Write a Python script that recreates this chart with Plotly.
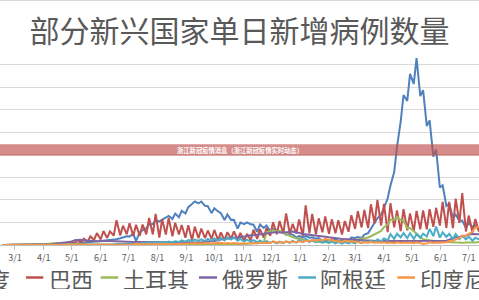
import pandas as pd
import plotly.graph_objects as go

# ---- data (daily new cases, thousands; sampled Mon / Thu) ----
india = [
    0,0, 0,0, 0,0, 0,0,
    0,0.1, 0.1,0.1, 0.2,0.5, 0.6,0.6,
    1.2,1.1, 1.5,1.7, 1.6,1.8, 2.6,3.3,
    4.2,3.9, 5.0,5.6, 6.9,7.3, 8.4,9.9,
    9.9,11.0, 11.5,12.9, 14.9,17.0, 19.5,19.1,
    24.2,9.0, 28.5,32.7, 37.1,45.7, 46.5,55.0,
    52.0,56.3, 62.0,64.6, 57.9,69.6, 61.4,75.8,
    69.9,83.9, 90.8,96.6, 92.1,96.4, 86.9,86.1,
    70.6,81.5, 74.4,70.5, 55.3,67.7, 55.7,55.8,
    36.5,49.9, 46.2,50.2, 45.9,44.9, 29.2,45.6,
    37.9,43.1, 31.1,35.6, 32.9,29.4, 27.1,22.9,
    24.3,23.1, 16.4,20.0, 16.5,20.3, 16.3,16.9,
    13.8,15.2, 9.1,11.7, 8.6,12.9, 11.8,9.3,
    9.1,13.2, 10.6,16.6, 15.5,17.4, 15.4,22.9,
    26.3,35.9, 46.9,59.1, 68.0,81.5, 103.6,131.9,
    161.7,217.4, 273.8,332.5, 319.4,379.3, 357.2,414.2,
    329.9,343.1, 263.5,276.1, 195.8,211.3, 127.5,132.4,
    86.5,91.7, 60.5,67.2, 53.2,54.1, 37.6,48.8,
    39.8,43.4, 32.9,
]
brazil = [
    0,0, 0,0, 0,0, 0,0,
    0.1,0.2, 0.4,0.5, 0.3,1.1, 0.9,1.9,
    1.2,3.1, 1.9,3.7, 4.6,7.2, 4.1,10.5,
    5.6,13.9, 7.9,19.0, 11.7,26.4, 12.2,30.9,
    15.6,30.4, 20.6,54.8, 21.4,42.7, 24.1,48.1,
    20.2,44.9, 20.3,45.4, 23.5,59.9, 23.3,69.1,
    16.6,57.2, 23.0,60.1, 19.4,49.3, 23.4,44.2,
    16.2,43.8, 10.3,40.6, 15.1,36.3, 15.0,32.1,
    13.4,33.4, 11.0,27.8, 10.2,28.5, 13.9,30.0,
    12.2,27.0, 8.5,24.9, 10.6,33.9, 13.4,35.3,
    16.2,37.6, 20.4,50.4, 24.0,53.3, 25.2,69.8,
    25.0,46.7, 25.6,56.8, 20.0,87.8, 25.8,68.9,
    23.7,59.1, 28.3,63.5, 24.6,56.9, 25.8,54.7,
    23.4,53.2, 29.4,65.9, 35.8,75.1, 38.9,77.6,
    37.5,90.3, 47.8,100.2, 42.9,91.1, 28.6,92.7,
    38.9,76.6, 30.6,79.7, 32.6,70.0, 30.2,75.6,
    34.8,76.6, 34.9,79.3, 40.4,82.4, 43.0,95.6,
    37.9,95.6, 37.2,103.0, 48.9,115.2, 30.0,65.2,
    27.8,57.7, 29.6,
]
turkey = [
    0,0, 0,0, 0,0, 0,0,
    0,0.1, 0.3,0.6, 1.6,2.1, 3.1,4.1,
    4.1,4.3, 4.7,3.1, 2.1,2.2, 1.6,2.0,
    1.1,1.6, 1.0,1.0, 1.0,1.2, 0.8,1.0,
    1.0,1.5, 1.5,1.3, 1.2,1.5, 1.3,1.2,
    1.1,1.0, 0.9,0.9, 0.9,0.9, 1.0,1.0,
    1.0,1.1, 1.2,1.2, 1.3,1.3, 1.4,1.5,
    1.6,1.6, 1.7,1.7, 1.6,1.7, 1.6,1.5,
    1.5,1.4, 1.4,1.4, 1.5,1.6, 1.9,2.0,
    2.1,2.2, 2.4,2.5, 3.0,3.3, 3.8,4.5,
    5.4,28.4, 31.2,32.4, 30.4,31.4, 27.0,23.7,
    20.3,17.7, 14.4,14.7, 12.0,11.7, 9.3,8.6,
    6.2,6.1, 5.7,6.0, 6.6,7.6, 7.4,7.7,
    7.1,7.8, 8.3,9.6, 10.7,12.0, 14.0,14.5,
    16.8,19.4, 23.0,26.4, 31.1,39.3, 44.7,55.9,
    55.8,62.8, 54.7,53.9, 37.3,37.7, 31.0,25.0,
    18.0,12.5, 11.4,10.0, 7.9,7.6, 7.1,6.7,
    6.0,5.8, 6.2,5.7, 5.3,5.2, 5.4,5.0,
    5.3,5.6, 6.4,
]
russia = [
    0,0, 0,0, 0,0, 0,0,
    0,0.1, 0.1,0.2, 0.3,0.8, 1.2,1.5,
    2.6,3.4, 4.3,4.8, 6.2,7.1, 10.6,11.2,
    11.7,10.0, 9.0,8.8, 8.9,8.4, 9.0,8.8,
    8.6,8.8, 8.2,7.8, 7.6,7.1, 6.7,6.8,
    6.6,6.6, 6.5,6.4, 6.0,5.8, 5.6,5.5,
    5.4,5.2, 5.1,5.1, 4.9,4.8, 4.7,4.7,
    4.7,4.9, 5.2,5.4, 5.5,5.9, 6.1,6.6,
    8.1,8.9, 10.9,11.5, 13.6,13.8, 15.9,15.7,
    17.3,18.3, 18.6,19.4, 21.8,21.6, 22.8,23.6,
    25.2,25.5, 26.7,28.1, 28.8,27.9, 27.3,28.0,
    29.3,29.9, 27.8,27.0, 24.2,23.5, 23.3,23.0,
    21.1,21.2, 19.3,18.2, 17.0,16.6, 15.0,14.5,
    13.4,13.0, 12.0,11.2, 11.1,10.6, 10.4,9.8,
    9.9,9.3, 9.2,9.1, 8.3,8.8, 8.5,8.8,
    8.8,8.5, 8.7,8.9, 8.9,9.1, 8.2,8.6,
    8.1,8.3, 8.4,8.2, 8.1,8.7, 9.0,8.9,
    9.4,11.6, 14.7,17.3, 17.4,20.2, 20.5,23.5,
    24.4,24.6, 24.1,
]
argentina = [
    0,0, 0,0, 0,0, 0,0,
    0,0, 0.04,0.09, 0.15,0.13, 0.08,0.1,
    0.1,0.1, 0.1,0.2, 0.1,0.2, 0.1,0.2,
    0.2,0.3, 0.3,0.5, 0.5,0.7, 0.6,0.9,
    0.8,1.2, 1.2,2.0, 1.6,2.6, 2.3,3.0,
    2.6,3.6, 3.1,4.2, 3.9,5.8, 4.2,6.4,
    4.8,7.1, 4.3,7.5, 5.5,8.2, 6.6,10.1,
    7.4,10.9, 8.7,11.9, 9.0,12.7, 8.8,13.5,
    9.2,14.4, 9.9,15.5, 10.0,16.5, 12.0,16.9,
    9.3,13.3, 7.6,11.9, 7.6,11.0, 6.4,9.5,
    5.0,8.4, 4.8,7.7, 3.6,7.4, 4.3,8.0,
    4.7,9.0, 5.3,11.8, 6.3,13.9, 6.4,11.2,
    5.8,10.2, 5.2,8.8, 4.3,7.5, 3.6,6.8,
    3.1,6.4, 3.5,6.7, 3.6,7.8, 4.1,8.0,
    5.3,9.6, 6.4,12.4, 8.1,14.6, 10.0,24.1,
    13.7,25.1, 17.0,26.5, 15.0,26.3, 13.5,24.1,
    15.5,25.1, 19.0,35.5, 19.6,41.1, 16.3,28.2,
    18.0,24.6, 13.5,24.3, 12.9,20.7, 12.7,18.5,
    9.6,16.1, 12.6,
]
indonesia = [
    0,0, 0,0, 0,0, 0,0,
    0.02,0.06, 0.06,0.1, 0.13,0.11, 0.22,0.34,
    0.4,0.3, 0.19,0.36, 0.21,0.35, 0.3,0.34,
    0.23,0.57, 0.5,0.97, 0.48,0.69, 0.47,0.58,
    0.85,0.98, 1.0,1.33, 0.95,1.18, 1.08,1.62,
    1.21,2.66, 1.28,1.57, 1.69,1.91, 1.53,2.04,
    1.92,1.82, 1.69,2.1, 1.67,2.27, 2.15,2.72,
    2.74,3.27, 3.05,3.86, 3.14,3.64, 4.18,4.63,
    3.51,4.17, 3.64,4.85, 3.27,4.41, 3.37,4.43,
    3.52,3.33, 2.62,4.07, 3.8,4.17, 3.54,4.8,
    4.44,4.92, 4.62,8.37, 5.8,6.03, 5.49,7.35,
    6.85,7.2, 5.85,8.07, 6.75,9.32, 8.23,11.56,
    9.09,11.7, 9.99,13.7, 10.99,11.43, 8.24,8.29,
    6.46,9.68, 7.79,8.49, 6.68,6.81, 5.16,5.49,
    5.66,6.57, 4.98,6.05, 5.08,5.9, 4.71,5.33,
    4.05,6.18, 4.59,5.49, 4.88,5.44, 3.99,5.68,
    4.61,2.5, 3.59,5.8, 4.7,5.61, 4.82,5.3,
    6.29,8.89, 8.19,12.62, 14.54,20.57, 20.69,24.84,
    29.75,38.39, 40.43,
]

series_names = ["印度", "巴西", "土耳其", "俄罗斯", "阿根廷", "印度尼西亚"]
series_values = [india, brazil, turkey, russia, argentina, indonesia]
series_colors = ["#4F81BD", "#C0504D", "#9BBB59", "#8064A2", "#4BACC6", "#F79646"]

title_text = "部分新兴国家单日新增病例数量"
banner_text = "浙江新冠疫情消息（浙江新冠疫情实时动态）"

# sample dates: every Monday and Thursday
mondays = pd.date_range("2020-02-17", periods=74, freq="7D")
dates = []
for m in mondays:
    dates += [m, m + pd.Timedelta(days=3)]
dates = dates[:len(india)]

tick_dates = pd.date_range("2020-03-01", "2021-07-01", freq="MS")
tick_labels = [f"{d.month}/1" for d in tick_dates]

W, H = 479, 300
TOP, BOTTOM = 42, 245
PH = BOTTOM - TOP
FONT = "Noto Sans CJK SC"
GREY = "#595959"

fig = go.Figure()
for name, vals, col in zip(series_names, series_values, series_colors):
    fig.add_trace(go.Scatter(x=dates, y=vals, mode="lines", name=name,
                             line=dict(color=col, width=2), showlegend=False))


def py(p):  # pixel y -> paper y
    return (BOTTOM - p) / PH


def px(p):
    return p / W


shapes = []
annotations = []
# top border line
shapes.append(dict(type="line", xref="paper", yref="paper", x0=0, x1=1,
                   y0=py(0.5), y1=py(0.5), line=dict(color="#d9d9d9", width=1)))
# banner
shapes.append(dict(type="rect", xref="paper", yref="paper", x0=-0.01, x1=1.01,
                   y0=py(155.7), y1=py(144.2), fillcolor="rgba(192,80,77,0.66)",
                   line=dict(width=0), layer="above"))
annotations.append(dict(text="<b>" + banner_text + "</b>", xref="paper", yref="paper", x=px(240),
                        y=py(150), xanchor="center", yanchor="middle", showarrow=False,
                        height=9,
                        font=dict(family=FONT, size=6.3, color="white")))

# manual legend
leg_y = py(277.5)
line_x = [(-56, -38), (26, 43.3), (100.7, 118.3), (199, 217), (298.3, 316), (397.3, 415)]
text_x = [11.5, 46.5, 120.7, 219.5, 317.5, 417.5]
for i, (name, col) in enumerate(zip(series_names, series_colors)):
    x0, x1 = line_x[i]
    shapes.append(dict(type="line", xref="paper", yref="paper", x0=px(x0), x1=px(x1),
                       y0=leg_y, y1=leg_y, line=dict(color=col, width=2.5)))
    annotations.append(dict(text=name, xref="paper", yref="paper",
                            x=px(text_x[i]), y=leg_y, height=22,
                            xanchor="right" if i == 0 else "left", yanchor="middle",
                            showarrow=False,
                            font=dict(family=FONT, size=22, color=GREY)))

fig.update_layout(
    width=W, height=H,
    margin=dict(l=0, r=0, t=TOP, b=H - BOTTOM, pad=0),
    paper_bgcolor="white", plot_bgcolor="white",
    title=dict(text=title_text, x=0.5, xanchor="center", xref="paper",
               y=1 - 31.5 / H, yanchor="middle", yref="container",
               font=dict(family=FONT, size=30, color=GREY)),
    xaxis=dict(range=["2020-02-14", "2021-07-12"], tickvals=tick_dates, ticktext=tick_labels,
               showgrid=False, showline=True, linecolor="#bfbfbf", linewidth=1,
               ticks="outside", ticklen=4, tickcolor="#bfbfbf",
               tickfont=dict(family=FONT, size=9, color=GREY), zeroline=False),
    yaxis=dict(range=[0, 450], dtick=50, showgrid=True, gridcolor="#d9d9d9", gridwidth=1,
               showticklabels=False, zeroline=False, showline=False),
    shapes=shapes, annotations=annotations,
    font=dict(family=FONT),
)

fig.write_html("out.html")
